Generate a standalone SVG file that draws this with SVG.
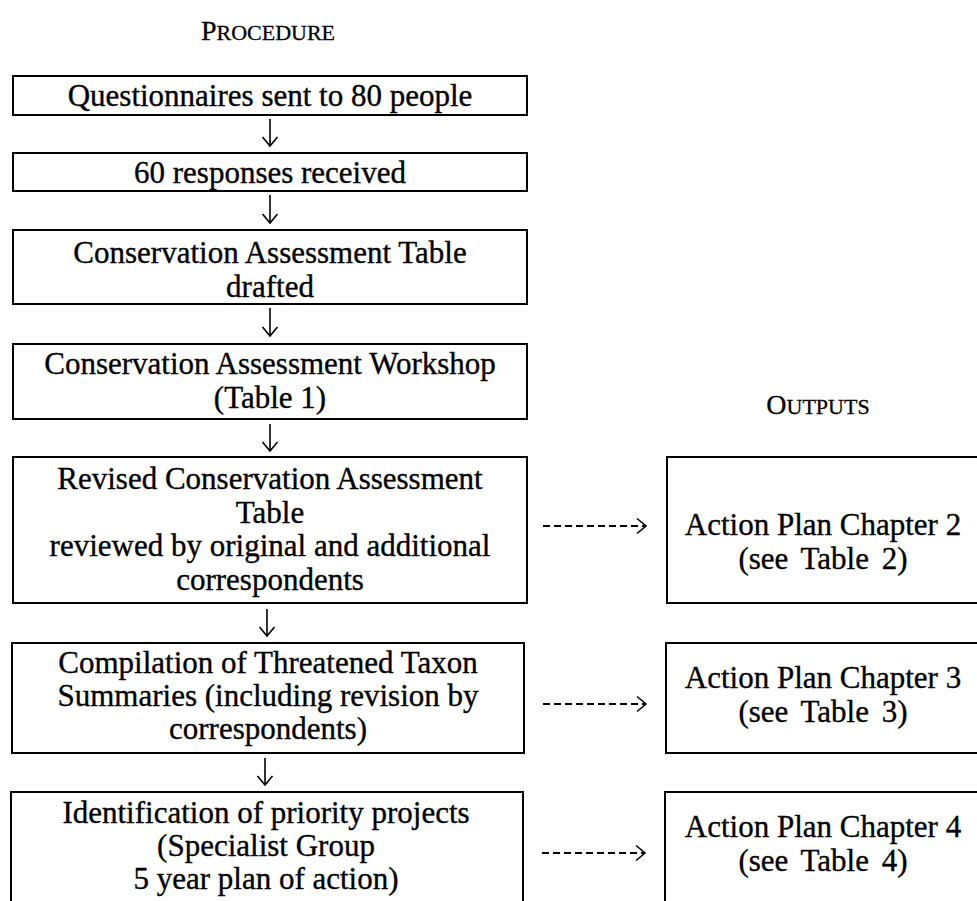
<svg xmlns="http://www.w3.org/2000/svg" width="977" height="901" viewBox="0 0 977 901">
<style>
.box{fill:#fff;stroke:#000;stroke-width:2}
.t{font-family:"Liberation Serif","Times New Roman",serif;font-size:31px;fill:#000;stroke:#000;stroke-width:0.35;text-anchor:middle}
.h{font-family:"Liberation Serif","Times New Roman",serif;fill:#000;stroke:#000;stroke-width:0.3;text-anchor:middle}
.ws{word-spacing:5px}
.c{fill:none;stroke:#000;stroke-width:1.6}
.d{fill:none;stroke:#000;stroke-width:1.8;stroke-dasharray:7 4}
</style>
<defs>
<marker id="ah" markerUnits="userSpaceOnUse" markerWidth="20" markerHeight="20" refX="10" refY="10" orient="auto">
<path d="M1,2.5 L10,10 L1,17.5" fill="none" stroke="#000" stroke-width="1.6"/>
</marker>
</defs>
<rect width="977" height="901" fill="#fff"/>
<g id="header-procedure"><text class="h" x="268" y="40"><tspan font-size="28">P</tspan><tspan font-size="22">ROCEDURE</tspan></text></g>
<g id="header-outputs"><text class="h" x="818" y="414"><tspan font-size="28">O</tspan><tspan font-size="22">UTPUTS</tspan></text></g>

<g id="n1"><rect class="box" x="13" y="76" width="514" height="39"/><text class="t" x="270" y="106">Questionnaires sent to 80 people</text></g>
<g id="n2"><rect class="box" x="13" y="153" width="514" height="38"/><text class="t" x="270" y="183">60 responses received</text></g>
<g id="n3"><rect class="box" x="13" y="230" width="514" height="74"/><text class="t" x="270" y="263">Conservation Assessment Table</text><text class="t" x="270" y="297">drafted</text></g>
<g id="n4"><rect class="box" x="13" y="344" width="514" height="75"/><text class="t" x="270" y="374">Conservation Assessment Workshop</text><text class="t" x="270" y="408">(Table 1)</text></g>
<g id="n5"><rect class="box" x="13" y="457" width="514" height="146"/><text class="t" x="270" y="489">Revised Conservation Assessment</text><text class="t" x="270" y="523">Table</text><text class="t" x="270" y="556">reviewed by original and additional</text><text class="t" x="270" y="590">correspondents</text></g>
<g id="n6"><rect class="box" x="12" y="643" width="512" height="110"/><text class="t" x="268" y="673">Compilation of Threatened Taxon</text><text class="t" x="268" y="706">Summaries (including revision by</text><text class="t" x="268" y="739">correspondents)</text></g>
<g id="n7"><rect class="box" x="11" y="792" width="512" height="130"/><text class="t" x="266" y="823">Identification of priority projects</text><text class="t" x="266" y="856">(Specialist Group</text><text class="t" x="266" y="889">5 year plan of action)</text></g>

<g id="o1"><rect class="box" x="667" y="457" width="330" height="146"/><text class="t" x="823" y="535">Action Plan Chapter 2</text><text class="t ws" x="823" y="569">(see Table 2)</text></g>
<g id="o2"><rect class="box" x="666" y="643" width="330" height="110"/><text class="t" x="823" y="688">Action Plan Chapter 3</text><text class="t ws" x="823" y="722">(see Table 3)</text></g>
<g id="o3"><rect class="box" x="665" y="792" width="330" height="130"/><text class="t" x="823" y="837">Action Plan Chapter 4</text><text class="t ws" x="823" y="871">(see Table 4)</text></g>

<g id="connectors">
<line class="c" x1="270" y1="119" x2="270" y2="146" marker-end="url(#ah)"/>
<line class="c" x1="270" y1="195" x2="270" y2="223" marker-end="url(#ah)"/>
<line class="c" x1="270" y1="308" x2="270" y2="336" marker-end="url(#ah)"/>
<line class="c" x1="270" y1="424" x2="270" y2="451" marker-end="url(#ah)"/>
<line class="c" x1="267" y1="609" x2="267" y2="636" marker-end="url(#ah)"/>
<line class="c" x1="265" y1="758" x2="265" y2="785" marker-end="url(#ah)"/>
<path class="d" d="M543,526 H646" marker-end="url(#ah)"/>
<path class="d" d="M543,704 H646" marker-end="url(#ah)"/>
<path class="d" d="M542,853 H645" marker-end="url(#ah)"/>
</g>
</svg>
